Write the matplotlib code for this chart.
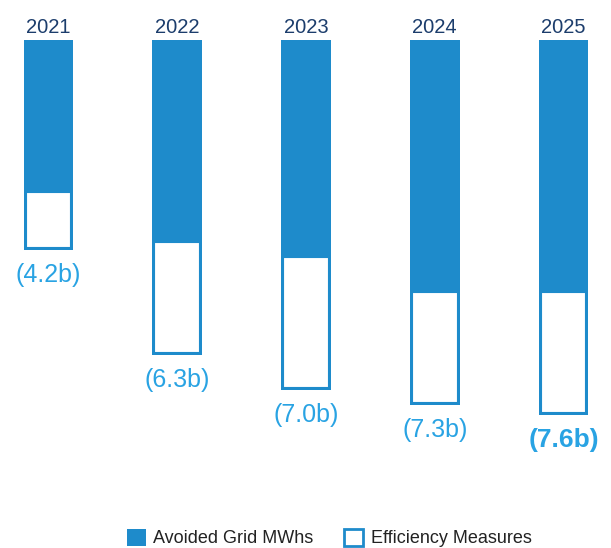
import matplotlib
matplotlib.use("Agg")
import matplotlib.pyplot as plt
from matplotlib.patches import Patch

plt.rcParams['font.family'] = ['Liberation Sans', 'DejaVu Sans']

years = ["2021", "2022", "2023", "2024", "2025"]
avoided = [3.0, 4.0, 4.3, 5.0, 5.0]
efficiency = [1.2, 2.3, 2.7, 2.3, 2.5]
total_labels = ["(4.2b)", "(6.3b)", "(7.0b)", "(7.3b)", "(7.6b)"]
legend_labels = ["Avoided Grid MWhs", "Efficiency Measures"]

BLUE = '#1e8bcb'
LABEL_BLUE = '#29a3e3'
NAVY = '#1c3d6c'

W, H, DPI = 611, 548, 100
fig = plt.figure(figsize=(W / DPI, H / DPI), dpi=DPI)
ax = fig.add_axes([0, 0, 1, 1])
ax.set_xlim(-0.3767, 4.369)
ax.set_ylim(10.16, -0.8)
ax.axis('off')

x = list(range(len(years)))
width = 0.388

ax.bar(x, avoided, width=width, bottom=0, color=BLUE, linewidth=0)
eff_bars = ax.bar(x, efficiency, width=width, bottom=avoided,
                  facecolor='white', edgecolor=BLUE, linewidth=4.4)
for b in eff_bars:
    b.set_clip_path(b)

for i, yr in enumerate(years):
    ax.annotate(yr, (i, 0), xytext=(0, 5), textcoords='offset points',
                ha='center', va='baseline', fontsize=14.5, color=NAVY)
    tot = avoided[i] + efficiency[i]
    bold = (i == len(years) - 1)
    ax.annotate(total_labels[i], (i, tot), xytext=(0, -9.5),
                textcoords='offset points', ha='center', va='top',
                fontsize=19 if bold else 18,
                fontweight='bold' if bold else 'normal', color=LABEL_BLUE)

handles = [Patch(facecolor=BLUE, edgecolor=BLUE, linewidth=0),
           Patch(facecolor='white', edgecolor=BLUE, linewidth=2)]
fig.legend(handles, legend_labels, loc='center', bbox_to_anchor=(0.539, 0.018),
           ncol=2, frameon=False, fontsize=13, handlelength=1.05,
           handleheight=1.05, handletextpad=0.4, columnspacing=1.7,
           labelcolor='#222222', borderaxespad=0, borderpad=0)

fig.savefig('out.png', dpi=DPI)
